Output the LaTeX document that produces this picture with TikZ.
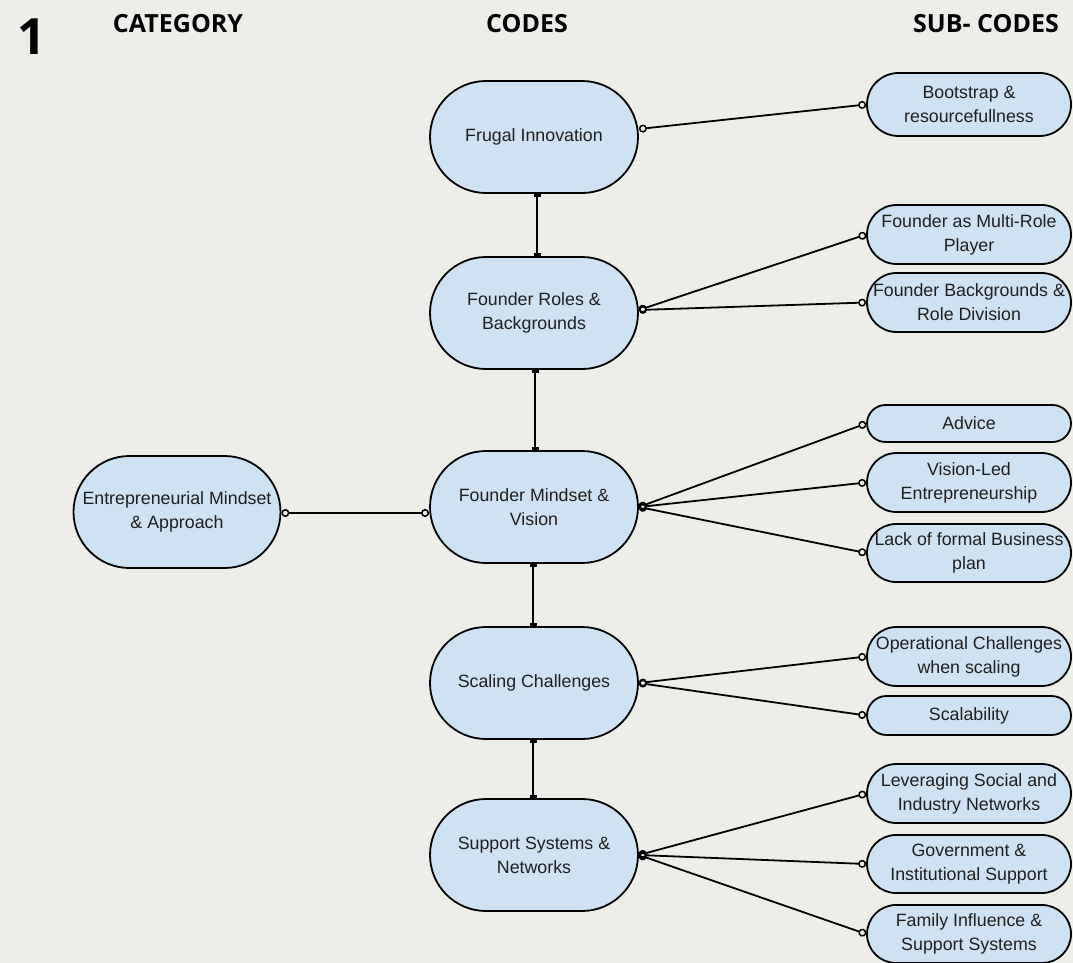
\documentclass[tikz,border=0pt]{standalone}
\usepackage{fontspec}
\setmainfont{Liberation Sans}
\newfontfamily\headfont{Open Sans}
\usetikzlibrary{arrows.meta}

\definecolor{paper}{HTML}{EDEEEA}
\definecolor{boxfill}{HTML}{CFE2F3}
\definecolor{ink}{HTML}{1F1F1F}

\tikzset{
  codebox/.style={draw=black, line width=1.8pt, fill=boxfill, text=ink,
    rounded corners=56pt, minimum width=208pt, minimum height=112pt,
    inner sep=0pt, align=center, font=\fontsize{17.8}{24}\selectfont},
  subbox/.style={draw=black, line width=1.8pt, fill=boxfill, text=ink,
    minimum width=204pt, minimum height=#1, rounded corners=#1/2,
    inner sep=0pt, align=center, font=\fontsize{17.8}{24}\selectfont},
  head/.style={inner sep=0pt, text=black, font=\headfont\bfseries\fontsize{25}{29}\selectfont},
  link/.style={line width=1.8pt,
    {Circle[open,length=8pt,width=8pt,line width=1.5pt]}-{Circle[open,length=8pt,width=8pt,line width=1.5pt]}},
  tee/.style={line width=1.8pt,
    {Rectangle[width=7pt,length=3pt]}-{Rectangle[width=7pt,length=3pt]}},
}

\begin{document}
\begin{tikzpicture}[x=1pt,y=-1pt]
  \fill[paper] (0,0) rectangle (1073,963);
  \useasboundingbox (0,0) rectangle (1073,963);

  % column headings
  \node[head, font=\headfont\bfseries\fontsize{50}{54}\selectfont] (num) at (32,37) {1};
  \node[head] (hcat) at (178,24) {CATEGORY};
  \node[head] (hcode) at (527,24) {CODES};
  \node[head] (hsub) at (986,24) {SUB- CODES};

  % category
  \node[codebox, minimum width=207pt] (em) at (177,512) {Entrepreneurial Mindset\\\& Approach};

  % codes
  \node[codebox] (fi) at (534,137) {Frugal Innovation};
  \node[codebox] (fr) at (534,313) {Founder Roles \&\\Backgrounds};
  \node[codebox] (fm) at (534,507) {Founder Mindset \&\\Vision};
  \node[codebox] (sc) at (534,683) {Scaling Challenges};
  \node[codebox] (ss) at (534,855) {Support Systems \&\\Networks};

  % sub-codes
  \node[subbox=63pt] (bs) at (969,104.5) {Bootstrap \&\\resourcefullness};
  \node[subbox=59pt] (mr) at (969,234.5) {Founder as Multi-Role\\Player};
  \node[subbox=59pt] (bd) at (969,302.5) {Founder Backgrounds \&\\Role Division};
  \node[subbox=37pt] (ad) at (969,423.5) {Advice};
  \node[subbox=59pt] (vl) at (969,482.5) {Vision-Led\\Entrepreneurship};
  \node[subbox=58pt] (lf) at (969,553) {Lack of formal Business\\plan};
  \node[subbox=59pt] (op) at (969,656.5) {Operational Challenges\\when scaling};
  \node[subbox=39pt] (sb) at (969,715.5) {Scalability};
  \node[subbox=59pt] (lv) at (969,793.5) {Leveraging Social and\\Industry Networks};
  \node[subbox=58pt] (gv) at (969,864) {Government \&\\Institutional Support};
  \node[subbox=58pt] (fa) at (969,934) {Family Influence \&\\Support Systems};

  % vertical links between codes
  \draw[tee] ([xshift=3pt]fi.south) -- ([xshift=3pt]fr.north);
  \draw[tee] ([xshift=1pt]fr.south) -- ([xshift=1pt]fm.north);
  \draw[tee] ([xshift=-1pt]fm.south) -- ([xshift=-1pt]sc.north);
  \draw[tee] ([xshift=-1pt]sc.south) -- ([xshift=-1pt]ss.north);

  % category to code
  \draw[link] ([yshift=-1pt]em.east) -- ([yshift=-6pt]fm.west);

  % codes to sub-codes
  \draw[link] ([yshift=8pt]fi.east) -- (bs.west);
  \draw[link] ([yshift=3pt]fr.east) -- (mr.west);
  \draw[link] ([yshift=3pt]fr.east) -- (bd.west);
  \draw[link] (fm.east) -- (ad.west);
  \draw[link] (fm.east) -- (vl.west);
  \draw[link] (fm.east) -- (lf.west);
  \draw[link] (sc.east) -- (op.west);
  \draw[link] (sc.east) -- (sb.west);
  \draw[link] (ss.east) -- (lv.west);
  \draw[link] (ss.east) -- (gv.west);
  \draw[link] (ss.east) -- (fa.west);
\end{tikzpicture}
\end{document}
